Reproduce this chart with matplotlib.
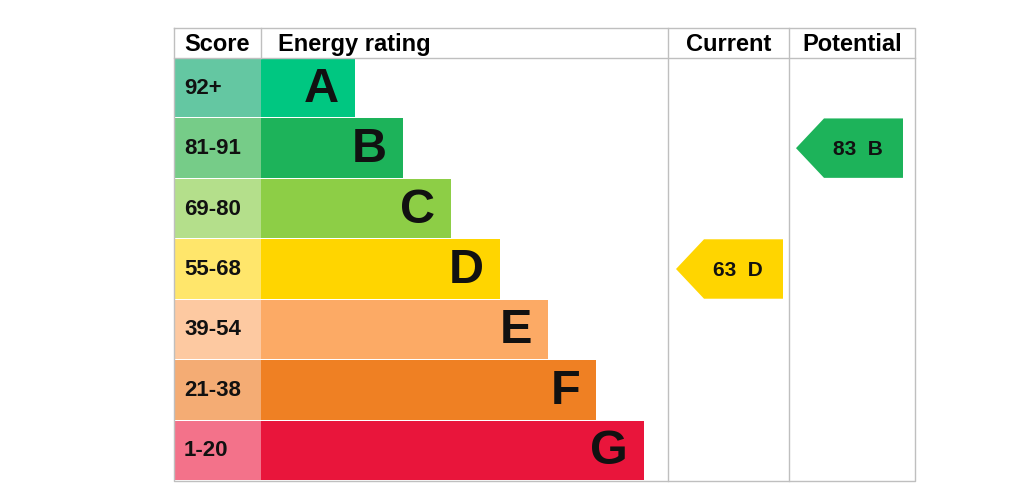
import matplotlib
matplotlib.use("Agg")
import matplotlib.pyplot as plt
from matplotlib.patches import Rectangle, Polygon

# ---- data ----
letters = ["A", "B", "C", "D", "E", "F", "G"]
score_ranges = ["92+", "81-91", "69-80", "55-68", "39-54", "21-38", "1-20"]
range_low = [92, 81, 69, 55, 39, 21, 1]
bar_colors = ["#00C781", "#1DB35A", "#8DCE46", "#FFD500", "#FCAA65", "#EF8023", "#E9153B"]
score_colors = ["#64C7A2", "#76CC88", "#B4DF8B", "#FFE66B", "#FDC9A1", "#F4AC74", "#F3728A"]
headers = ["Score", "Energy rating", "Current", "Potential"]
current_score = 63
potential_score = 83

# ---- layout (pixels) ----
W, H = 1024, 499
left, right, top, bottom = 174, 915, 28, 481
header_h = 30
col_score = 261
col_cur = 668
col_pot = 789
bar_first_end = 355
bar_step = 48.2
row_h = (bottom - top - header_h) / len(letters)
grid_c = "#BFBFBF"
FONT = "Liberation Sans"

fig = plt.figure(figsize=(W / 100, H / 100), dpi=100)
ax = fig.add_axes([0, 0, 1, 1])
ax.set_xlim(0, W)
ax.set_ylim(H, 0)
ax.axis("off")

def row_of(score):
    for i, lo in enumerate(range_low):
        if score >= lo:
            return i
    return len(range_low) - 1

# rows
for i, (let, rng) in enumerate(zip(letters, score_ranges)):
    y0 = top + header_h + i * row_h
    ax.add_patch(Rectangle((left, y0), col_score - left, row_h - 1, facecolor=score_colors[i], edgecolor="none"))
    end = bar_first_end + i * bar_step
    ax.add_patch(Rectangle((col_score, y0), end - col_score, row_h - 1, facecolor=bar_colors[i], edgecolor="none"))
    ax.text(184, y0 + row_h / 2, rng, ha="left", va="center", fontsize=16, fontweight="bold", family=FONT, color="#111111")
    ax.text(end - 16, y0 + row_h / 2 + 1, let, ha="right", va="center", fontsize=35, fontweight="bold", family=FONT, color="#111111")

# grid lines
lw = 1.0
ax.plot([left, right, right, left, left], [top, top, bottom, bottom, top], color=grid_c, lw=lw)
ax.plot([left, right], [top + header_h, top + header_h], color=grid_c, lw=lw)
ax.plot([col_score, col_score], [top, top + header_h], color=grid_c, lw=lw)
for x in (col_cur, col_pot):
    ax.plot([x, x], [top, bottom], color=grid_c, lw=lw)

# headers
hy = top + header_h / 2 + 1
hfs = 17
ax.text((left + col_score) / 2, hy, headers[0], ha="center", va="center", fontsize=hfs, fontweight="bold", family=FONT)
ax.text(278, hy, headers[1], ha="left", va="center", fontsize=hfs, fontweight="bold", family=FONT)
ax.text((col_cur + col_pot) / 2, hy, headers[2], ha="center", va="center", fontsize=hfs, fontweight="bold", family=FONT)
ax.text((col_pot + right) / 2, hy, headers[3], ha="center", va="center", fontsize=hfs, fontweight="bold", family=FONT)

# arrows
def arrow(score, x_tip, x_right):
    i = row_of(score)
    y0 = top + header_h + i * row_h
    y1 = y0 + row_h - 1
    ym = (y0 + y1) / 2
    notch = x_tip + 28
    ax.add_patch(Polygon([(x_tip, ym), (notch, y0), (x_right, y0), (x_right, y1), (notch, y1)],
                         closed=True, facecolor=bar_colors[i], edgecolor="none"))
    ax.text((notch + x_right) / 2 - 6, ym + 1, f"{score}  {letters[i]}", ha="center", va="center",
            fontsize=15, fontweight="bold", family=FONT, color="#111111")

arrow(current_score, 676, 783)
arrow(potential_score, 796, 903)

fig.savefig("out.png", dpi=100)
